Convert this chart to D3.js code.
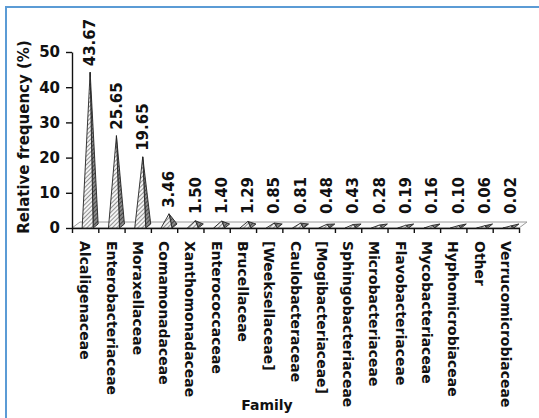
<!DOCTYPE html>
<html>
<head>
<meta charset="utf-8">
<script src="https://cdn.jsdelivr.net/npm/d3@7"></script>
<style>
  html, body { margin: 0; padding: 0; background: #fff; }
  svg { display: block; }
  text { font-family: "DejaVu Sans", Verdana, sans-serif; font-weight: bold; fill: #111; }
</style>
</head>
<body>
<svg id="chart" width="539" height="418"></svg>
<script>
// Bacterial families and their relative frequency (%)
const categories = [
  "Alcaligenaceae", "Enterobacteriaceae", "Moraxellaceae", "Comamonadaceae",
  "Xanthomonadaceae", "Enterococcaceae", "Brucellaceae", "[Weeksellaceae]",
  "Caulobacteraceae", "[Mogibacteriaceae]", "Sphingobacteriaceae",
  "Microbacteriaceae", "Flavobacteriaceae", "Mycobacteriaceae",
  "Hyphomicrobiaceae", "Other", "Verrucomicrobiaceae"
];
const values = [43.67, 25.65, 19.65, 3.46, 1.50, 1.40, 1.29, 0.85, 0.81,
                0.48, 0.43, 0.28, 0.19, 0.16, 0.10, 0.06, 0.02];
const valueLabels = ["43.67", "25.65", "19.65", "3.46", "1.50", "1.40", "1.29", "0.85", "0.81",
                     "0.48", "0.43", "0.28", "0.19", "0.16", "0.10", "0.06", "0.02"];
const yTicks = [0, 10, 20, 30, 40, 50];

const svg = d3.select("#chart");

// frame around the figure
svg.append("path")
  .attr("d", "M6,418 V7 H539")
  .attr("fill", "none")
  .attr("stroke", "#5b9bd5")
  .attr("stroke-width", 2);

const plotLeft = 72, plotRight = 519, plotTop = 52, plotBase = 228;
const x = d3.scaleBand().domain(categories).range([plotLeft, plotRight]).padding(0);
const y = d3.scaleLinear().domain([0, 50]).range([plotBase, plotTop]);
const depth = { dx: 8, dy: -6 };

// hatch patterns for the pyramid faces
const defs = svg.append("defs");
const front = defs.append("pattern")
  .attr("id", "hatchFront").attr("patternUnits", "userSpaceOnUse")
  .attr("width", 3).attr("height", 3)
  .attr("patternTransform", "rotate(45)");
front.append("rect").attr("width", 3).attr("height", 3).attr("fill", "#f4f4f4");
front.append("line").attr("x1", 0).attr("y1", 0).attr("x2", 0).attr("y2", 3)
  .attr("stroke", "#444").attr("stroke-width", 1.1);
const side = defs.append("pattern")
  .attr("id", "hatchSide").attr("patternUnits", "userSpaceOnUse")
  .attr("width", 3).attr("height", 3)
  .attr("patternTransform", "rotate(45)");
side.append("rect").attr("width", 3).attr("height", 3).attr("fill", "#8a8a8a");
side.append("line").attr("x1", 0).attr("y1", 0).attr("x2", 0).attr("y2", 3)
  .attr("stroke", "#222").attr("stroke-width", 1.3);

// floor of the 3-D plot area
svg.append("polygon")
  .attr("points", [
    [plotLeft, plotBase], [plotRight, plotBase],
    [plotRight + depth.dx, plotBase + depth.dy], [plotLeft + depth.dx, plotBase + depth.dy]
  ].map(p => p.join(",")).join(" "))
  .attr("fill", "#fafafa")
  .attr("stroke", "#9a9a9a")
  .attr("stroke-width", 1);

// y axis
svg.append("g")
  .attr("transform", `translate(${plotLeft},0)`)
  .call(d3.axisLeft(y).tickValues(yTicks).tickSize(6).tickSizeOuter(0).tickPadding(6))
  .call(g => g.selectAll("path, line").attr("stroke", "#111").attr("stroke-width", 1.4))
  .call(g => g.selectAll("text").attr("font-size", 15).attr("font-family", null).attr("font-weight", null));

// x axis: ticks on category boundaries
const xEdges = d3.scaleLinear().domain([0, categories.length]).range([plotLeft, plotRight]);
svg.append("g")
  .attr("transform", `translate(0,${plotBase})`)
  .call(d3.axisBottom(xEdges).ticks(categories.length).tickSize(5).tickSizeOuter(0).tickFormat(""))
  .call(g => g.selectAll("path, line").attr("stroke", "#111").attr("stroke-width", 1.4));

// pyramids
const pyr = svg.append("g");
categories.forEach((c, i) => {
  const cx = x(c) + x.bandwidth() / 2;
  const x0 = cx - 3, x1 = cx + 8;
  const bx = x1 + 5, by = plotBase - 4;
  const ax = (x0 + x1) / 2 + 2.5;
  const ay = Math.min(y(values[i]) - 2, plotBase - 2);
  pyr.append("polygon")
    .attr("points", `${x1},${plotBase} ${bx},${by} ${ax},${ay}`)
    .attr("fill", "url(#hatchSide)")
    .attr("stroke", "#222").attr("stroke-width", 0.9).attr("stroke-linejoin", "round");
  pyr.append("polygon")
    .attr("points", `${x0},${plotBase} ${x1},${plotBase} ${ax},${ay}`)
    .attr("fill", "url(#hatchFront)")
    .attr("stroke", "#222").attr("stroke-width", 0.9).attr("stroke-linejoin", "round");
});

// value labels
svg.append("g").selectAll("text")
  .data(categories)
  .join("text")
  .attr("transform", (c, i) => `translate(${x(c) + x.bandwidth() / 2 + 5},${Math.min(y(values[i]), 222) - 8}) rotate(-90)`)
  .attr("dy", "0.35em")
  .attr("text-anchor", "start")
  .attr("font-size", 15)
  .text((c, i) => valueLabels[i]);

// category labels
svg.append("g").selectAll("text")
  .data(categories)
  .join("text")
  .attr("transform", c => `translate(${x(c) + x.bandwidth() / 2},241) rotate(90)`)
  .attr("dy", "0.35em")
  .attr("text-anchor", "start")
  .attr("font-size", 14)
  .text(c => c);

// axis titles
svg.append("text")
  .attr("transform", "translate(29,137) rotate(-90)")
  .attr("text-anchor", "middle")
  .attr("font-size", 15)
  .text("Relative frequency (%)");

svg.append("text")
  .attr("x", 267).attr("y", 410)
  .attr("text-anchor", "middle")
  .attr("font-size", 14)
  .text("Family");
</script>
</body>
</html>
